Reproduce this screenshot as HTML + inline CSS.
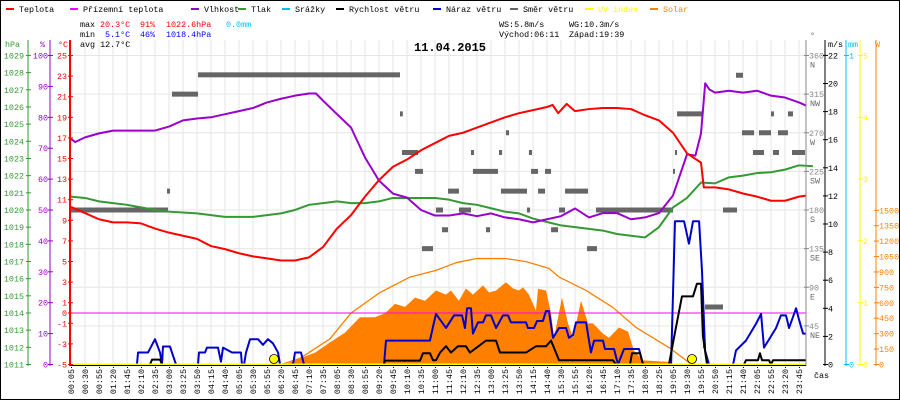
<!DOCTYPE html>
<html><head><meta charset="utf-8"><style>
html,body{margin:0;padding:0;background:#fff}
svg{display:block}
text{font-family:"Liberation Mono",monospace;font-size:8.4px}
</style></head><body>
<svg id="c" width="900" height="400" viewBox="0 0 900 400" xmlns="http://www.w3.org/2000/svg">
<rect x="0.5" y="0.5" width="899" height="399" fill="#fff" stroke="#000"/>
<g id="grid"></g>
<g id="series"></g>
<g id="axes"></g>
<g id="legend"></g>
<g>
<text x="80" y="27">max</text>
<text x="100" y="27" fill="#f00">20.3°C</text>
<text x="140" y="27" fill="#f00">91%</text>
<text x="166" y="27" fill="#f00">1022.6hPa</text>
<text x="226" y="27" fill="#00bfff">0.0mm</text>
<text x="80" y="37">min</text>
<text x="105" y="37" fill="#00f">5.1°C</text>
<text x="140" y="37" fill="#00f">46%</text>
<text x="166" y="37" fill="#00f">1018.4hPa</text>
<text x="80" y="47">avg 12.7°C</text>
<text x="499" y="27">WS:5.8m/s</text>
<text x="569" y="27">WG:10.3m/s</text>
<text x="499" y="37">Východ:06:11</text>
<text x="569" y="37">Západ:19:39</text>
<text x="414" y="51" style="font-size:12px;font-weight:bold">11.04.2015</text>
</g>
</svg>
<script>
// ---- data ----
const timeLabels=["00:05","00:30","00:55","01:20","01:45","02:10","02:35","03:00","03:25","03:50","04:15","04:40","05:05","05:30","05:55","06:20","06:45","07:10","07:35","08:05","08:30","08:55","09:20","09:45","10:10","10:35","11:00","11:45","12:10","12:35","13:00","13:25","13:50","14:15","14:40","15:30","15:55","16:20","16:45","17:10","17:35","18:00","18:25","19:05","19:30","19:55","20:50","21:15","21:40","22:05","22:55","23:20","23:45"];
const tempT=[0,1,2,3,4,5,6,7,8,9,10,11,12,13,14,15,16,17,18,19,20,21,22,23,24,25,26,27,28,29,30,31,32,33,34,34.4,34.8,35.4,36,37,38,39,40,41,42,43,44,45,45.2,46,47,48,49,50,51,52,52.5];
const tempV=[10.3,9.7,9.1,8.8,8.8,8.7,8.2,7.8,7.5,7.2,6.5,6.2,5.8,5.5,5.3,5.1,5.1,5.4,6.4,8.2,9.5,11.3,12.9,14.2,14.9,15.8,16.5,17.2,17.5,18.0,18.5,19.0,19.4,19.7,20.0,20.2,19.4,20.3,19.6,19.8,19.9,19.9,19.8,19.2,18.7,17.5,15.5,14.6,12.2,12.2,12.0,11.6,11.3,10.9,10.9,11.3,11.4];
const humT=[0,0.3,1,2,3,4,5,6,7,8,9,10,11,12,13,14,15,16,17,17.5,18,19,20,21,22,23,24,25,26,27,28,29,30,31,32,33,34,35,36,37,38,39,40,41,42,43,44,44.6,45,45.3,45.6,46,47,48,49,50,51,52,52.5];
const humV=[73,72,73.5,74.8,75.7,75.7,75.7,75.7,77,79,79.6,80,81,82,83,84.8,86,87,87.7,87.7,85.4,81,76.7,67,59.5,55.3,54,50,48.2,48.2,48.9,48,48.9,47.6,47,46,47,48,50.5,47.6,49,49,47,47.6,49,54.7,68,67.6,74.8,91,89,88,88.6,88,88.6,87,86.4,84.8,83.8];
const pressV=[1020.78,1020.7,1020.5,1020.4,1020.3,1020.15,1020.0,1019.9,1019.85,1019.8,1019.7,1019.6,1019.6,1019.6,1019.7,1019.8,1020.0,1020.3,1020.4,1020.5,1020.4,1020.4,1020.5,1020.7,1020.7,1020.7,1020.7,1020.6,1020.4,1020.3,1020.1,1019.9,1019.8,1019.5,1019.3,1019.1,1019.0,1018.9,1018.8,1018.6,1018.5,1018.4,1019.0,1020.15,1020.7,1021.6,1021.55,1021.9,1022.0,1022.15,1022.2,1022.35,1022.6,1022.55];
const groundT=[0,52.5];
const groundV=[0,0];
const gustT=[0,4.71,4.79,5.5,6.0,6.36,6.5,6.57,7.07,7.5,9.07,9.14,9.57,9.71,10.5,10.71,10.86,11.5,12.14,12.21,12.36,12.5,12.79,13.36,13.71,14.07,14.43,14.79,14.93,15.86,16.0,16.43,16.64,22.36,22.5,25.64,25.86,26.07,26.79,27.36,27.93,28.14,28.29,28.57,28.71,29.07,29.43,29.64,30.0,30.36,30.86,31.21,31.43,32.5,32.64,33.07,33.29,33.71,33.93,34.14,34.43,34.86,35.36,35.57,35.86,36.07,36.79,37.14,37.36,38.0,38.14,38.79,39.07,39.5,40.57,40.86,42.86,43.0,43.14,43.79,44.14,44.43,44.86,45.07,45.29,45.57,47.29,47.5,48.21,48.93,49.29,49.5,50.36,50.71,51.07,51.29,51.79,52.0,52.29,52.5];
const gustV=[0,0,0.85,0.85,1.8,0.85,0,1.28,1.28,0,0,0.85,0.85,1.2,1.2,0.2,1.2,0.85,0.85,0,0,0.85,1.8,1.8,1.4,1.8,1.5,0.85,0,0,0.85,0.85,0,0,1.7,1.7,2.7,3.6,2.6,3.5,3.5,2.6,4.0,4.0,2.2,3.0,3.0,3.5,3.5,2.6,3.5,3.5,3.0,3.0,2.6,2.6,3.1,3.1,3.8,3.8,1.9,2.6,2.6,1.9,2.1,3.0,3.0,0.85,1.7,1.7,1.1,1.1,0,1.1,1.1,0,0,5,10.2,10.2,8.6,10.2,10.2,6.7,1,0,0,1.0,1.7,2.9,3.6,1.2,2.6,3.5,3.5,2.6,4.0,3.2,2.2,2.2];
const windT=[0,5.64,5.79,6.36,6.5,22.36,22.43,24.93,25.14,25.64,25.86,26.07,26.36,26.79,27.14,27.64,28.21,28.5,29.64,30.36,30.64,32.5,33.21,33.93,34.29,34.86,38.71,38.93,39.93,40.07,40.64,40.86,42.71,43.07,43.64,44.43,44.71,45.0,45.14,45.43,48.07,48.21,49.07,49.21,49.36,49.86,50.0,50.14,52.5];
const windV=[0,0,0.35,0.35,0,0,0.28,0.28,0.8,0.8,0.3,0.3,0.85,1.3,0.85,1.3,1.3,0.85,1.7,1.7,0.85,0.85,1.3,1.3,1.7,0.3,0.3,0,0,0.8,0.8,0,0,1.9,4.85,4.85,5.75,5.75,2,0,0,0.3,0.3,0.8,0.3,0.3,0,0.3,0.3];
const solarT=[15.29,16.36,17.43,18.5,19.57,20.64,21.71,22.43,23.14,23.86,24.57,25.29,26.07,26.79,27.14,27.71,28.21,28.71,29.43,29.86,30.36,31.07,31.57,32.0,32.29,32.71,33.21,33.36,33.93,34.29,34.5,35.07,35.5,35.86,36.43,36.93,37.29,38.0,38.43,39.14,39.79,40.21,40.86,42.71,42.86];
const solarV=[0,60,115,215,310,460,460,500,590,560,650,620,720,680,720,620,740,680,770,700,720,800,740,720,750,680,525,735,720,500,260,650,400,260,620,400,400,300,260,360,320,135,40,25,0];
const solarMaxT=[15.0,16.36,18.5,20.0,22.07,24.21,26.07,27.5,28.93,31.07,32.5,34.14,34.86,36.79,38.71,40.36,42.71,44.14,44.36];
const solarMaxV=[0,60,250,500,700,850,915,990,1030,1030,1000,935,850,720,555,360,165,20,0];
const uvT=[0,52.5];
const uvV=[0,0];
const sunEventT=[14.5,44.36];
const dirFrom=[-0.07,6.86,7.21,9.07,23.5,23.64,24.57,25.07,26.07,26.5,26.93,27.71,28.57,28.71,29.64,30.57,30.71,31.07,32.57,32.71,32.86,33.36,33.86,34.29,34.86,35.29,36.86,37.5,43.0,43.14,43.29,45.14,45.29,46.57,47.5,47.93,48.71,49.14,50.0,50.14,50.5,51.21,51.5];
const dirTo=[6.93,7.07,9.07,23.5,23.7,24.79,25.14,25.86,26.57,26.93,27.71,28.57,28.79,30.5,29.93,30.79,32.57,31.29,32.79,32.93,33.36,33.86,34.29,34.79,35.29,36.93,37.57,43.0,43.14,43.29,45.14,45.36,46.57,47.57,48.0,48.79,49.5,50.0,50.21,50.57,51.21,51.57,52.43];
const dirDeg=[180,202,315,337.5,292,247,225,135,180,157,202,180,247,225,157,247,202,270,180,247,225,202,225,157,180,202,135,180,225,247,292,22,67,180,337,270,247,270,292,247,270,292,247];
const hpaTicks=[1011,1012,1013,1014,1015,1016,1017,1018,1019,1020,1021,1022,1023,1024,1025,1026,1027,1028,1029];
const humTicks=[0,10,20,30,40,50,60,70,80,90,100];
const tempTicks=[-5,-3,-1,0,1,3,5,7,9,11,13,15,17,19,21,23,25];
const dirTicks=[45,90,135,180,225,270,315,360];
const dirNames=["NE","E","SE","S","SW","W","NW","N"];
const msTicks=[0,2,4,6,8,10,12,14,16,18,20,22];
const mmTicks=[0,1];
const uvTicks=[0,1,2,3,4,5];
const wTicks=[0,150,300,450,600,750,900,1050,1200,1350,1500];

// ---- scales ----
const X0=71,DX=14,YB=364.5;
const xI=i=>X0+DX*i;
const yT=t=>313-t*10.3;
const yH=h=>YB-h*3.09;
const yP=p=>YB-(p-1011)*17.17;
const yD=d=>YB-d*0.8583;
const yV=v=>YB-v*14.05;
const yW=w=>YB-w*0.10283;
const yMM=m=>YB-m*309;
const yUV=u=>YB-u*61.8;

const NS="http://www.w3.org/2000/svg";
function mk(tag,parent,attrs){const e=document.createElementNS(NS,tag);for(const k in attrs)e.setAttribute(k,attrs[k]);parent.appendChild(e);return e;}
const G=document.getElementById('grid'),S=document.getElementById('series'),A=document.getElementById('axes'),L=document.getElementById('legend');

for(let i=0;i<timeLabels.length;i++){
  const l=mk('line',G,{x1:xI(i),x2:xI(i),y1:40,y2:364,stroke:'#e6e6e6'});
  
  
  const t=mk('text',A,{transform:`translate(${xI(i)+3},369) rotate(-90)`,'text-anchor':'end'});
  t.textContent=timeLabels[i];
  
  
  const d=mk('rect',A,{x:xI(i),y:367,width:1,height:1,fill:'#000'});
  
  
}
dirTicks.forEach(d=>{
  const l=mk('line',G,{x1:70,x2:806,y1:yD(d),y2:yD(d),stroke:'#e6e6e6'});
  
  
});

function poly(ts,vs,sc,color,w,name){
  const p=mk('polyline',S,{points:ts.map((t,i)=>xI(t)+','+sc(vs[i])).join(' '),fill:'none',stroke:color,'stroke-width':w,'stroke-linejoin':'round'});
  
  
}
{
  const pts=solarT.map((t,i)=>xI(t)+','+yW(solarV[i]));
  const p=mk('polygon',S,{points:xI(solarT[0])+','+YB+' '+pts.join(' ')+' '+xI(solarT[solarT.length-1])+','+YB,fill:'#ff8000'});
  
  
}
poly(solarMaxT,solarMaxV,yW,'#ff8000',1.3,'solar-theoretical-line');
dirDeg.forEach((d,i)=>{
  const r=mk('rect',S,{x:xI(dirFrom[i]),y:yD(d)-2.5,width:Math.max(2,xI(dirTo[i])-xI(dirFrom[i])),height:5,fill:'#666'});
  
  
});
poly(groundT,groundV,yT,'#ff00ff',1,'ground-temp-line');
poly(pressV.map((v,i)=>i),pressV,yP,'#339933',2,'pressure-line');
poly(humT,humV,yH,'#9900cc',2,'humidity-line');
poly(tempT,tempV,yT,'#ff0000',2,'temperature-line');
poly(gustT,gustV,yV,'#0000cc',2,'wind-gust-line');
poly(windT,windV,yV,'#000',2,'wind-speed-line');
poly(uvT,uvV,yUV,'#ffff00',2,'uv-line');
sunEventT.forEach(t=>{
  const c=mk('circle',S,{cx:xI(t),cy:359,r:4.5,fill:'#ffff00',stroke:'#000','stroke-width':0.8});
  
  
});

function axis(x,color,ticks,sc,labelX,anchor,name,fmt,w){
  const l=mk('line',A,{x1:x,x2:x,y1:40,y2:366,stroke:color,'stroke-width':w||1});
  
  
  ticks.forEach((v,i)=>{
    const y=sc(v);
    mk('line',A,{x1:x-2,x2:x+3,y1:y,y2:y,stroke:color});
    const t=mk('text',A,{x:labelX,y:y+3,fill:color,'text-anchor':anchor});
    t.textContent=fmt?fmt(v,i):v;
    
    
  });
}
axis(28,'#339933',hpaTicks,yP,24,'end','pressure');
axis(50,'#9900cc',humTicks,yH,48,'end','humidity');
axis(70,'#ff0000',tempTicks,yT,67,'end','temperature',null,2);
axis(806,'#888',dirTicks,yD,809,'start','direction');
dirTicks.forEach((d,i)=>{const t=mk('text',A,{x:810,y:yD(d)+12,fill:'#666'});t.textContent=dirNames[i];
  
  });
axis(825,'#000',msTicks,yV,828,'start','wind-speed');
axis(846,'#00bfff',mmTicks,yMM,849,'start','precip');
axis(860,'#ffff00',uvTicks,yUV,863,'start','uv');
axis(876,'#ff8000',wTicks,yW,879,'start','solar');
mk('line',A,{x1:70,x2:806,y1:365.5,y2:365.5,stroke:'#000'});
[['hPa',5,'#339933'],['%',40,'#9900cc'],['°C',58,'#ff0000'],['°',810,'#666'],['m/s',828,'#000'],['mm',848,'#00bfff'],['W',875,'#ff8000']].forEach(a=>{
  const t=mk('text',A,{x:a[1],y:a[0]==='°'?38:47,fill:a[2]});t.textContent=a[0];
  
  
});
{const t=mk('text',A,{x:814,y:378});t.textContent='čas';
 
 }

[['Teplota','#ff0000',6],['Přízemní teplota','#ff00ff',70],['Vlhkost','#9900cc',191],['Tlak','#339933',238],['Srážky','#00bfff',282],['Rychlost větru','#000',336],['Náraz větru','#0000cc',433],['Směr větru','#666',510],['UV index','#ffff00',585],['Solar','#ff8000',650]].forEach(e=>{
  const r=mk('rect',L,{x:e[2],y:8,width:8,height:2,fill:e[1]});
  
  
  const t=mk('text',L,{x:e[2]+13,y:12,fill:(e[1]==='#ffff00'||e[1]==='#ff8000')?e[1]:'#000','font-size':'8.2px'});
  t.textContent=e[0];
  
  
});
</script>
</body></html>
